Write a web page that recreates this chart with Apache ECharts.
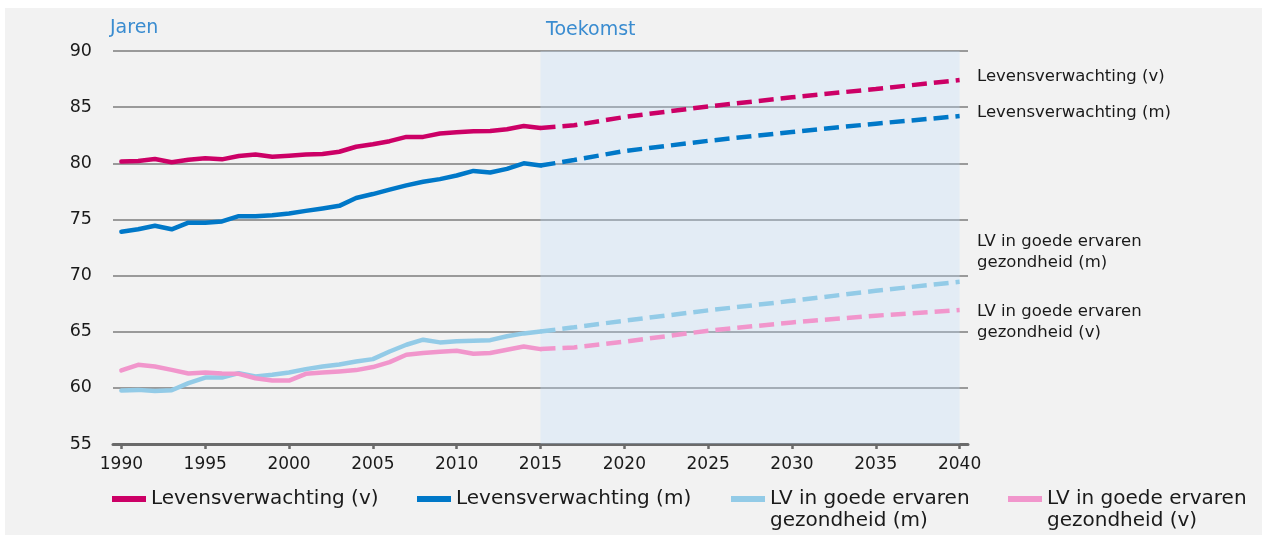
<!DOCTYPE html>
<html>
<head>
<meta charset="utf-8">
<script src="https://cdn.jsdelivr.net/npm/echarts@6/dist/echarts.min.js"></script>
<style>
  html, body { margin: 0; padding: 0; background: #ffffff; }
  #panel { position: absolute; left: 5px; top: 8px; width: 1257px; height: 527px; background: #f2f2f2; }
  #chart { position: absolute; left: 0; top: 0; width: 1262px; height: 535px; }
</style>
</head>
<body>
<div id="panel"></div>
<div id="chart"></div>
<script>
// Observed years
const years = [1990, 1991, 1992, 1993, 1994, 1995, 1996, 1997, 1998, 1999,
               2000, 2001, 2002, 2003, 2004, 2005, 2006, 2007, 2008, 2009,
               2010, 2011, 2012, 2013, 2014, 2015];
// Projection years
const projYears = [2015, 2017, 2020, 2025, 2030, 2035, 2040];
const tickYears = [1990, 1995, 2000, 2005, 2010, 2015, 2020, 2025, 2030, 2035, 2040];

// Levensverwachting vrouwen (observed / projected)
const lvV = [80.15, 80.2, 80.38, 80.09, 80.32, 80.44, 80.35, 80.65, 80.79, 80.59,
             80.68, 80.79, 80.82, 81.03, 81.47, 81.7, 81.97, 82.35, 82.35, 82.65,
             82.76, 82.85, 82.88, 83.03, 83.32, 83.15];
const lvVProj = [83.15, 83.38, 84.12, 85.06, 85.88, 86.62, 87.41];

// Levensverwachting mannen
const lvM = [73.91, 74.12, 74.44, 74.12, 74.71, 74.71, 74.82, 75.29, 75.29, 75.38,
             75.53, 75.76, 75.97, 76.21, 76.91, 77.26, 77.65, 78.03, 78.35, 78.59,
             78.91, 79.32, 79.18, 79.5, 80.0, 79.8];
const lvMProj = [79.8, 80.29, 81.09, 82.0, 82.79, 83.53, 84.21];

// LV in goede ervaren gezondheid, mannen
const gezM = [59.76, 59.82, 59.73, 59.79, 60.42, 60.92, 60.92, 61.31, 61.01, 61.16,
              61.37, 61.67, 61.9, 62.08, 62.35, 62.56, 63.24, 63.84, 64.29, 64.05,
              64.15, 64.2, 64.25, 64.6, 64.85, 65.02];
const gezMProj = [65.02, 65.39, 65.98, 66.9, 67.75, 68.65, 69.45];

// LV in goede ervaren gezondheid, vrouwen
const gezV = [61.55, 62.05, 61.9, 61.6, 61.28, 61.37, 61.28, 61.25, 60.86, 60.65,
              60.65, 61.25, 61.37, 61.46, 61.58, 61.85, 62.29, 62.95, 63.1, 63.21,
              63.3, 63.04, 63.1, 63.39, 63.69, 63.45];
const gezVProj = [63.45, 63.6, 64.11, 65.09, 65.83, 66.43, 66.93];

const names = ['Levensverwachting (v)', 'Levensverwachting (m)',
               'LV in goede ervaren\ngezondheid (m)', 'LV in goede ervaren\ngezondheid (v)'];
const colors = ['#cc0066', '#0078c8', '#93cbe7', '#f196cc'];

const pair = (xs, ys) => xs.map((x, i) => [x, ys[i]]);
const observed = [lvV, lvM, gezM, gezV];
const projected = [lvVProj, lvMProj, gezMProj, gezVProj];

const series = [];
observed.forEach((vals, k) => {
  series.push({
    name: names[k], type: 'line', data: pair(years, vals),
    symbol: 'none', silent: true, z: 3,
    itemStyle: { color: colors[k] },
    lineStyle: { color: colors[k], width: 4.5, cap: 'round', join: 'round' }
  });
});
projected.forEach((vals, k) => {
  const s = {
    name: names[k], type: 'line', data: pair(projYears, vals),
    symbol: 'none', silent: true, z: 3,
    itemStyle: { color: colors[k] },
    lineStyle: { color: colors[k], width: 4.5, type: [15, 7] }
  };
  if (k === 0) {
    // shaded future period
    s.markArea = {
      silent: true,
      itemStyle: { color: 'rgba(190,222,254,0.28)' },
      data: [[{ xAxis: 2015 }, { xAxis: 2040 }]]
    };
  }
  series.push(s);
});

const legendFont = { color: '#1a1a1a', fontSize: 20, fontFamily: 'DejaVu Sans', lineHeight: 22 };
const legendLeft = [107, 412, 726, 1003];
const legends = names.map((n, k) => {
  const lg = {
    data: [n], left: legendLeft[k], top: k < 2 ? 483 : 461,
    icon: 'rect', itemWidth: 34, itemHeight: 6, itemGap: 0,
    selectedMode: false,
    textStyle: legendFont
  };
  // two-line entries: keep the swatch level with the first line
  if (k >= 2) lg.formatter = name => '\n' + name;
  return lg;
});

const sideFont = { fill: '#1a1a1a', fontSize: 16.5, fontFamily: 'DejaVu Sans', lineHeight: 21 };
const sideLabels = [
  { text: 'Levensverwachting (v)', y: 77 },
  { text: 'Levensverwachting (m)', y: 113 },
  { text: 'LV in goede ervaren\ngezondheid (m)', y: 252.5 },
  { text: 'LV in goede ervaren\ngezondheid (v)', y: 322.5 }
];

const chart = echarts.init(document.getElementById('chart'), null, { renderer: 'canvas' });
chart.setOption({
  animation: false,
  grid: { left: 113, right: 294, top: 51, bottom: 91 },
  xAxis: {
    type: 'value', min: 1989.5, max: 2040.5,
    splitLine: { show: false },
    axisLine: { show: true, lineStyle: { color: '#6a6a6a', width: 3 } },
    axisTick: { show: true, customValues: tickYears, length: 5, lineStyle: { color: '#6a6a6a', width: 2.5 } },
    axisLabel: { customValues: tickYears, formatter: v => String(v), margin: 12,
                 color: '#1a1a1a', fontSize: 17, fontFamily: 'DejaVu Sans' }
  },
  yAxis: {
    type: 'value', min: 55, max: 90, interval: 5,
    axisLine: { show: false }, axisTick: { show: false },
    splitLine: { lineStyle: { color: '#7c7c7c', width: 1.5 } },
    axisLabel: { margin: 21, color: '#1a1a1a', fontSize: 17.5, fontFamily: 'DejaVu Sans' }
  },
  legend: legends,
  graphic: [
    { type: 'text', left: 110, top: 19, style: { text: 'Jaren', fill: '#3a8cd0', fontSize: 19, fontFamily: 'DejaVu Sans' } },
    { type: 'text', left: 546, top: 21, style: { text: 'Toekomst', fill: '#3a8cd0', fontSize: 19, fontFamily: 'DejaVu Sans' } }
  ].concat(sideLabels.map(l => ({
    type: 'text', x: 977, y: l.y,
    style: Object.assign({ text: l.text, verticalAlign: 'middle', align: 'left' }, sideFont)
  }))),
  series: series
});
</script>
</body>
</html>
